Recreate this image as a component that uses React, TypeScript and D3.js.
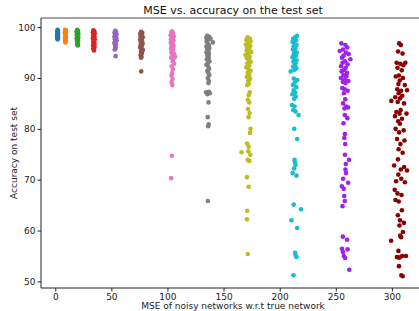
import React, { useRef, useEffect } from 'react';
import * as d3 from 'd3';

// each group: [mse, accuracy] pairs
const groupColors = ['#1f77b4', '#ff7f0e', '#2ca02c', '#d62728', '#9467bd', '#8c564b', '#e377c2', '#7f7f7f', '#bcbd22', '#17becf', '#a020f0', '#8b0000'];

const g0 = [[2.1,99.5],[2.4,99.3],[1.9,99.2],[2.3,99.0],[2.0,98.9],[2.5,98.7],[2.2,98.6],[1.8,98.4],[2.4,98.3],[2.1,98.1],[2.3,98.0],[1.9,97.9],[2.2,97.8],[2.5,97.7],[2.0,97.6],[2.2,98.5],[2.1,99.1],[2.3,98.2]];
const g1 = [[8.8,99.5],[9.3,99.4],[9.0,99.2],[8.6,99.0],[9.4,98.9],[9.1,98.7],[8.8,98.5],[9.2,98.3],[8.9,98.1],[9.4,98.0],[8.7,97.8],[9.1,97.6],[9.3,97.4],[8.9,97.2],[9.1,97.0],[8.8,98.8],[9.0,98.2]];
const g2 = [[19.5,99.5],[20.2,99.3],[19.0,99.1],[20.4,98.9],[19.6,98.7],[19.2,98.5],[20.1,98.4],[19.8,98.2],[20.5,98.0],[19.1,97.8],[19.9,97.6],[20.3,97.4],[19.4,97.3],[19.8,97.0],[20.0,96.8],[19.5,96.6],[20.2,96.4],[19.7,97.9],[20.4,98.6]];
const g3 = [[34.0,99.4],[34.8,99.2],[33.6,99.0],[35.1,98.8],[34.4,98.6],[33.8,98.4],[34.9,98.2],[34.2,98.0],[33.5,97.8],[35.2,97.6],[34.5,97.4],[33.9,97.2],[34.7,97.0],[34.1,96.8],[35.0,96.6],[33.7,96.4],[34.4,96.2],[34.9,96.0],[34.0,95.8],[34.3,95.6],[34.6,95.4],[34.2,98.9],[34.6,97.9]];
const g4 = [[53.4,99.3],[54.2,99.1],[52.8,98.9],[54.6,98.6],[53.7,98.4],[52.7,98.1],[54.4,97.9],[53.2,97.6],[54.8,97.4],[53.6,97.1],[52.6,96.9],[54.1,96.6],[53.3,96.3],[53.9,96.0],[53.5,95.7],[53.0,95.6],[53.8,94.3],[53.6,98.7]];
const g5 = [[76.5,99.1],[77.6,98.9],[75.8,98.7],[77.2,98.5],[76.1,98.2],[78.0,98.0],[76.7,97.8],[75.6,97.5],[77.4,97.3],[76.3,97.0],[77.9,96.8],[76.0,96.5],[77.1,96.3],[75.7,96.0],[76.8,95.8],[78.1,95.5],[76.4,95.2],[77.3,94.9],[76.0,94.5],[76.9,94.2],[76.4,94.0],[76.6,91.3],[77.0,97.6],[76.2,98.8]];
const g6 = [[103.5,99.0],[105.0,98.8],[104.2,98.6],[102.8,98.4],[105.6,98.2],[103.9,98.0],[104.7,97.8],[103.1,97.6],[105.3,97.4],[104.0,97.2],[102.9,97.0],[104.8,96.8],[103.6,96.5],[105.5,96.3],[104.3,96.0],[103.2,95.8],[105.1,95.6],[104.0,95.3],[103.5,95.0],[105.8,94.8],[104.4,94.5],[106.8,94.2],[103.3,94.0],[105.2,93.7],[104.6,93.3],[106.0,92.8],[103.8,92.3],[104.9,91.7],[104.2,91.0],[103.6,90.5],[104.5,89.8],[103.7,89.2],[104.3,88.6],[103.9,74.7],[103.3,70.3],[104.1,99.2]];
const g7 = [[135.5,98.3],[137.2,98.1],[134.6,97.9],[138.4,97.7],[136.0,97.5],[134.9,97.2],[140.5,97.0],[135.8,96.8],[136.9,96.5],[134.7,96.2],[137.3,95.9],[135.4,95.6],[136.6,95.3],[134.8,95.0],[137.0,94.7],[135.6,94.4],[136.8,94.0],[135.1,93.7],[137.4,93.3],[135.9,92.9],[134.7,92.6],[136.3,92.2],[137.1,91.8],[135.5,91.4],[136.4,91.0],[137.3,90.6],[136.0,90.0],[136.8,89.4],[136.5,89.0],[134.4,87.2],[135.6,86.8],[136.9,87.3],[137.8,87.0],[136.6,85.2],[135.9,82.3],[136.7,80.9],[136.3,80.5],[136.0,65.8]];
const g8 = [[171.5,98.0],[173.5,97.7],[170.2,97.5],[174.0,97.2],[172.3,96.9],[169.8,96.6],[173.8,96.3],[171.0,96.0],[172.8,95.7],[170.5,95.4],[174.5,95.1],[171.8,94.8],[169.5,94.5],[173.2,94.2],[170.8,93.9],[172.6,93.6],[174.2,93.2],[171.2,92.9],[173.0,92.5],[170.1,92.1],[172.0,91.8],[174.1,91.4],[171.4,91.0],[172.9,90.6],[170.7,90.2],[173.6,89.8],[171.9,89.4],[172.5,88.9],[171.1,88.6],[173.3,87.2],[172.4,86.6],[171.6,85.7],[172.9,85.2],[171.8,83.9],[173.2,83.1],[172.2,82.3],[174.0,80.0],[173.5,79.2],[171.0,77.1],[172.4,76.5],[166.0,75.4],[172.0,75.6],[173.8,74.9],[171.5,73.9],[172.9,73.7],[170.8,70.5],[172.3,68.6],[171.0,63.9],[170.8,62.2],[171.6,55.4]];
const g9 = [[215.5,98.3],[213.8,98.0],[212.0,97.7],[214.6,97.4],[211.5,97.1],[213.2,96.8],[215.0,96.5],[212.4,96.2],[214.0,95.9],[211.8,95.6],[213.6,95.3],[215.3,95.0],[212.6,94.7],[214.4,94.4],[211.4,94.1],[213.0,93.8],[215.1,93.5],[212.2,93.2],[214.2,92.9],[213.4,92.5],[211.9,92.2],[214.8,91.9],[213.1,91.6],[209.8,91.3],[212.6,89.9],[215.6,89.6],[213.5,89.1],[211.8,88.6],[214.8,88.2],[212.4,87.6],[213.9,87.1],[211.2,86.8],[214.4,86.3],[212.9,85.9],[210.9,84.7],[213.3,84.4],[212.1,83.7],[214.1,83.4],[216.8,82.7],[213.0,80.0],[215.5,78.0],[213.2,73.9],[213.7,73.4],[214.1,72.9],[212.8,72.2],[211.5,71.3],[215.0,70.8],[212.5,65.1],[219.0,64.2],[210.5,62.0],[215.6,60.5],[213.8,55.6],[214.3,55.1],[215.0,54.8],[212.3,51.2]];
const g10 = [[255.0,96.8],[258.5,96.5],[260.2,96.0],[256.4,95.6],[253.5,95.3],[259.0,95.0],[261.5,94.7],[257.0,94.4],[255.5,94.0],[263.0,93.7],[258.2,93.3],[256.0,93.0],[260.5,92.7],[254.7,92.3],[258.8,92.0],[257.5,91.6],[255.2,91.3],[260.0,91.0],[256.8,90.6],[259.4,90.3],[254.5,90.0],[257.8,89.7],[261.2,89.4],[256.3,89.2],[258.6,89.0],[255.8,88.0],[258.0,87.8],[260.6,87.5],[257.2,87.0],[258.4,85.8],[256.5,85.0],[259.3,84.4],[257.7,84.0],[261.0,84.2],[258.0,82.7],[260.3,82.1],[256.9,81.1],[258.1,79.0],[257.6,78.2],[258.4,77.0],[258.2,74.9],[261.8,73.9],[258.9,73.1],[258.6,72.0],[259.1,71.3],[256.5,70.2],[261.0,69.4],[255.4,68.7],[257.0,68.2],[257.5,66.8],[258.0,65.8],[256.0,64.8],[256.3,58.8],[260.0,58.2],[255.5,56.4],[256.4,55.8],[257.2,55.0],[258.3,54.6],[260.5,56.3],[262.0,52.3]];
const g11 = [[306.5,96.8],[308.0,96.5],[305.5,95.2],[309.5,94.8],[304.2,93.0],[307.5,92.8],[310.2,92.5],[312.0,93.0],[305.0,92.0],[308.8,91.5],[306.2,90.5],[303.5,90.3],[309.8,90.0],[307.0,89.5],[305.8,88.8],[311.5,88.6],[304.8,87.8],[308.2,87.5],[313.5,87.6],[306.0,87.0],[309.2,86.5],[303.0,86.2],[307.3,86.0],[299.5,85.5],[305.2,85.3],[310.8,85.0],[307.8,83.7],[304.0,83.3],[306.8,83.0],[313.0,83.0],[302.8,82.5],[309.0,82.0],[305.6,81.5],[307.1,81.0],[303.3,80.0],[310.5,79.7],[306.4,79.3],[304.6,78.0],[311.2,77.7],[307.6,77.0],[306.0,76.0],[309.6,75.3],[305.4,74.0],[302.0,72.8],[310.9,72.5],[307.9,72.0],[313.5,71.8],[305.7,71.0],[308.3,70.2],[303.8,69.7],[311.6,69.5],[302.5,68.0],[305.0,67.3],[308.6,67.0],[303.2,66.0],[306.1,65.7],[308.9,64.0],[305.3,63.0],[307.2,62.0],[310.7,61.5],[306.7,61.0],[309.8,59.7],[307.4,59.0],[308.2,58.7],[299.3,58.0],[305.8,56.0],[304.5,54.8],[307.0,54.7],[309.1,55.0],[305.6,54.7],[312.6,55.0],[306.3,53.0],[308.4,51.2],[309.6,51.0]];

const groups = [g0, g1, g2, g3, g4, g5, g6, g7, g8, g9, g10, g11];
const xTicks = [0, 50, 100, 150, 200, 250, 300];
const yTicks = [50, 60, 70, 80, 90, 100];

const App = () => {
  const ref = useRef<SVGSVGElement>(null);

  useEffect(() => {
    const width = 419;
    const height = 311;
    const left = 41, top = 18, right = 425, bottom = 288;
    const font = 'DejaVu Sans, sans-serif';

    const svg = d3.select(ref.current);
    svg.selectAll('*').remove();

    const x = d3.scaleLinear().domain([-12.7, 329.5]).range([left, right]);
    const y = d3.scaleLinear().domain([48.7, 101.8]).range([bottom, top]);

    // points
    groups.forEach((g, i) => {
      svg.append('g')
        .selectAll('circle')
        .data(g)
        .enter()
        .append('circle')
        .attr('cx', (d) => x(d[0]))
        .attr('cy', (d) => y(d[1]))
        .attr('r', 2.3)
        .style('fill', groupColors[i]);
    });

    // spines
    svg.append('line').attr('x1', left).attr('x2', width).attr('y1', top).attr('y2', top)
      .attr('stroke', '#888').attr('stroke-width', 1.5);
    svg.append('line').attr('x1', left).attr('x2', left).attr('y1', top).attr('y2', bottom)
      .attr('stroke', '#222').attr('stroke-width', 1);
    svg.append('line').attr('x1', left).attr('x2', width).attr('y1', bottom).attr('y2', bottom)
      .attr('stroke', '#222').attr('stroke-width', 1);

    // y axis
    const ya = svg.append('g').attr('transform', `translate(${left},0)`)
      .call(d3.axisLeft(y).tickValues(yTicks).tickSize(3.5).tickPadding(2));
    ya.select('.domain').remove();
    ya.selectAll('text').style('font-family', font).style('font-size', '9px').attr('fill', '#222');
    ya.selectAll('line').attr('stroke', '#222');

    // x axis
    const xa = svg.append('g').attr('transform', `translate(0,${bottom})`)
      .call(d3.axisBottom(x).tickValues(xTicks).tickSize(3.5).tickPadding(2));
    xa.select('.domain').remove();
    xa.selectAll('text').style('font-family', font).style('font-size', '9px').attr('fill', '#222');
    xa.selectAll('line').attr('stroke', '#222');

    svg.append('text')
      .attr('x', (left + right) / 2)
      .attr('y', 14)
      .attr('text-anchor', 'middle')
      .style('font-family', font)
      .style('font-size', '11px')
      .attr('fill', '#111')
      .text('MSE vs. accuracy on the test set');

    svg.append('text')
      .attr('x', (left + right) / 2)
      .attr('y', 309)
      .attr('text-anchor', 'middle')
      .style('font-family', font)
      .style('font-size', '9px')
      .attr('fill', '#222')
      .text('MSE of noisy networks w.r.t true network');

    svg.append('text')
      .attr('transform', `translate(17,${(top + bottom) / 2}) rotate(-90)`)
      .attr('text-anchor', 'middle')
      .style('font-family', font)
      .style('font-size', '9px')
      .attr('fill', '#222')
      .text('Accuracy on test set');
  }, []);

  return (
    <svg ref={ref} width={419} height={311} style={{ position: 'absolute', left: 0, top: 0, background: '#fff' }}></svg>
  );
};

export default App;
